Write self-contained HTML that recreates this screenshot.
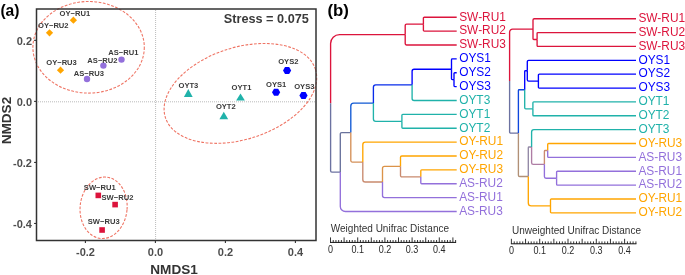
<!DOCTYPE html>
<html><head><meta charset="utf-8"><style>
html,body{margin:0;padding:0;background:#fff;width:685px;height:275px;overflow:hidden;font-family:"Liberation Sans",sans-serif;}
svg{display:block;will-change:transform}
</style></head><body>
<svg width="685" height="275" viewBox="0 0 685 275">
<rect width="685" height="275" fill="#fff"/>
<line x1="155.6" y1="10" x2="155.6" y2="240" stroke="#a8a8a8" stroke-width="0.8" stroke-dasharray="1 1"/>
<line x1="38" y1="101.8" x2="315" y2="101.8" stroke="#a8a8a8" stroke-width="0.8" stroke-dasharray="1 1"/>
<ellipse cx="88.6" cy="47.3" rx="55.7" ry="45.8" fill="none" stroke="#ef7565" stroke-width="1.1" stroke-dasharray="2.8 1.5"/>
<ellipse cx="240.4" cy="93.4" rx="78.8" ry="45.9" transform="rotate(-17.9 240.4 93.4)" fill="none" stroke="#ef7565" stroke-width="1.1" stroke-dasharray="2.8 1.5"/>
<ellipse cx="103.6" cy="207.8" rx="23.5" ry="30.8" transform="rotate(5.3 103.6 207.8)" fill="none" stroke="#ef7565" stroke-width="1.1" stroke-dasharray="2.8 1.5"/>
<path d="M69.80 20.20L73.40 16.60L77.00 20.20L73.40 23.80Z" fill="#ffa500"/>
<path d="M45.90 32.80L49.50 29.20L53.10 32.80L49.50 36.40Z" fill="#ffa500"/>
<path d="M56.90 70.20L60.50 66.60L64.10 70.20L60.50 73.80Z" fill="#ffa500"/>
<circle cx="121.5" cy="59.6" r="3.2" fill="#9370db"/>
<circle cx="103.4" cy="65.6" r="3.2" fill="#9370db"/>
<circle cx="87" cy="79" r="3.2" fill="#9370db"/>
<path d="M188.30 89.10L192.70 97.10L183.90 97.10Z" fill="#20b2aa"/>
<path d="M240.50 93.40L244.90 100.40L236.10 100.40Z" fill="#20b2aa"/>
<path d="M223.80 111.70L228.20 119.30L219.40 119.30Z" fill="#20b2aa"/>
<path d="M283.00 70.50L285.05 67.00L289.15 67.00L291.20 70.50L289.15 74.00L285.05 74.00Z" fill="#0000ff"/>
<path d="M272.00 92.20L274.05 88.70L278.15 88.70L280.20 92.20L278.15 95.70L274.05 95.70Z" fill="#0000ff"/>
<path d="M299.40 95.40L301.45 91.90L305.55 91.90L307.60 95.40L305.55 98.90L301.45 98.90Z" fill="#0000ff"/>
<rect x="95.50" y="192.60" width="5.6" height="5.6" fill="#dc143c"/>
<rect x="112.30" y="201.80" width="5.6" height="5.6" fill="#dc143c"/>
<rect x="99.30" y="227.20" width="5.6" height="5.6" fill="#dc143c"/>
<g font-family='"Liberation Sans", sans-serif' font-weight="bold" font-size="7.6" fill="#3a3a3a" text-anchor="middle">
<text x="74.85" y="15.90">OY−RU1</text>
<text x="53.30" y="27.90">OY−RU2</text>
<text x="61.55" y="64.70">OY−RU3</text>
<text x="123.30" y="54.90">AS−RU1</text>
<text x="102.45" y="62.50">AS−RU2</text>
<text x="88.80" y="76.30">AS−RU3</text>
<text x="188.40" y="87.60">OYT3</text>
<text x="241.45" y="89.90">OYT1</text>
<text x="225.80" y="108.80">OYT2</text>
<text x="288.35" y="64.00">OYS2</text>
<text x="276.15" y="86.60">OYS1</text>
<text x="304.30" y="89.00">OYS3</text>
<text x="99.75" y="189.90">SW−RU1</text>
<text x="117.45" y="200.20">SW−RU2</text>
<text x="103.70" y="223.70">SW−RU3</text>
</g>
<rect x="36.5" y="9.0" width="279.50" height="231.50" fill="none" stroke="#333" stroke-width="1.5"/>
<line x1="85.40" y1="240.5" x2="85.40" y2="242.9" stroke="#333" stroke-width="1.1"/>
<line x1="155.40" y1="240.5" x2="155.40" y2="242.9" stroke="#333" stroke-width="1.1"/>
<line x1="225.40" y1="240.5" x2="225.40" y2="242.9" stroke="#333" stroke-width="1.1"/>
<line x1="295.40" y1="240.5" x2="295.40" y2="242.9" stroke="#333" stroke-width="1.1"/>
<line x1="34.1" y1="40.36" x2="36.5" y2="40.36" stroke="#333" stroke-width="1.1"/>
<line x1="34.1" y1="101.40" x2="36.5" y2="101.40" stroke="#333" stroke-width="1.1"/>
<line x1="34.1" y1="162.44" x2="36.5" y2="162.44" stroke="#333" stroke-width="1.1"/>
<line x1="34.1" y1="223.48" x2="36.5" y2="223.48" stroke="#333" stroke-width="1.1"/>
<g font-family='"Liberation Sans", sans-serif' font-weight="bold" font-size="11" fill="#4d4d4d">
<text x="85.50" y="256.2" text-anchor="middle">-0.2</text>
<text x="155.50" y="256.2" text-anchor="middle">0.0</text>
<text x="225.50" y="256.2" text-anchor="middle">0.2</text>
<text x="295.50" y="256.2" text-anchor="middle">0.4</text>
<text x="32" y="44.66" text-anchor="end">0.2</text>
<text x="32" y="105.70" text-anchor="end">0.0</text>
<text x="32" y="166.74" text-anchor="end">-0.2</text>
<text x="32" y="227.78" text-anchor="end">-0.4</text>
</g>
<text x="174.1" y="274.4" font-family='"Liberation Sans", sans-serif' font-weight="bold" font-size="13.6" fill="#333" text-anchor="middle">NMDS1</text>
<text transform="translate(10.7,120.55) rotate(-90)" x="0" y="0" font-family='"Liberation Sans", sans-serif' font-weight="bold" font-size="13.6" fill="#333" text-anchor="middle">NMDS2</text>
<text x="0.4" y="15.6" font-family='"Liberation Sans", sans-serif' font-weight="bold" font-size="15.6" fill="#000">(a)</text>
<text x="223.8" y="22.6" font-family='"Liberation Sans", sans-serif' font-weight="bold" font-size="12.7" fill="#3a3a3a">Stress = 0.075</text>
<text x="327.5" y="16.2" font-family='"Liberation Sans", sans-serif' font-weight="bold" font-size="16.8" fill="#000">(b)</text>
<path d="M330.60 103.30V43.49A8.94 8.94 0 0 1 339.54 34.55H405.20" fill="none" stroke="#dc143c" stroke-width="1.35"/>
<path d="M405.20 34.55V25.49A1.35 1.35 0 0 1 406.55 24.14H423.40" fill="none" stroke="#dc143c" stroke-width="1.35"/>
<path d="M423.40 24.14V18.10A0.90 0.90 0 0 1 424.30 17.20H456.70" fill="none" stroke="#dc143c" stroke-width="1.35"/>
<path d="M423.40 24.14V30.18A0.90 0.90 0 0 0 424.30 31.08H456.70" fill="none" stroke="#dc143c" stroke-width="1.35"/>
<path d="M405.20 34.55V43.61A1.35 1.35 0 0 0 406.55 44.96H456.70" fill="none" stroke="#dc143c" stroke-width="1.35"/>
<path d="M330.60 103.30V170.79A1.26 1.26 0 0 0 331.86 172.05H340.30" fill="none" stroke="#6c72a1" stroke-width="1.35"/>
<path d="M340.30 172.05V133.94A1.36 1.36 0 0 1 341.67 132.58H350.80" fill="none" stroke="#69729c" stroke-width="1.35"/>
<path d="M350.80 132.58V106.02A2.94 2.94 0 0 1 353.74 103.08H373.40" fill="none" stroke="#1059d4" stroke-width="1.35"/>
<path d="M373.40 103.08V87.23A2.37 2.37 0 0 1 375.77 84.87H412.10" fill="none" stroke="#082cea" stroke-width="1.35"/>
<path d="M412.10 84.87V71.28A2.03 2.03 0 0 1 414.13 69.25H451.50" fill="none" stroke="#0000ff" stroke-width="1.35"/>
<path d="M451.50 69.25V59.64A0.80 0.80 0 0 1 452.30 58.84H456.70" fill="none" stroke="#0000ff" stroke-width="1.35"/>
<path d="M451.50 69.25V78.86A0.80 0.80 0 0 0 452.30 79.66H454.00" fill="none" stroke="#0000ff" stroke-width="1.35"/>
<path d="M454.00 79.66V73.52A0.80 0.80 0 0 1 454.80 72.72H456.70" fill="none" stroke="#0000ff" stroke-width="1.35"/>
<path d="M454.00 79.66V85.80A0.80 0.80 0 0 0 454.80 86.60H456.70" fill="none" stroke="#0000ff" stroke-width="1.35"/>
<path d="M412.10 84.87V98.45A2.03 2.03 0 0 0 414.13 100.48H456.70" fill="none" stroke="#20b2aa" stroke-width="1.35"/>
<path d="M373.40 103.08V118.93A2.37 2.37 0 0 0 375.77 121.30H401.90" fill="none" stroke="#20b2aa" stroke-width="1.35"/>
<path d="M401.90 121.30V115.26A0.90 0.90 0 0 1 402.80 114.36H456.70" fill="none" stroke="#20b2aa" stroke-width="1.35"/>
<path d="M401.90 121.30V127.34A0.90 0.90 0 0 0 402.80 128.24H456.70" fill="none" stroke="#20b2aa" stroke-width="1.35"/>
<path d="M350.80 132.58V160.51A1.56 1.56 0 0 0 352.36 162.07H362.80" fill="none" stroke="#d49058" stroke-width="1.35"/>
<path d="M362.80 162.07V144.71A2.59 2.59 0 0 1 365.39 142.12H456.70" fill="none" stroke="#ffa500" stroke-width="1.35"/>
<path d="M362.80 162.07V179.46A2.56 2.56 0 0 0 365.36 182.02H382.50" fill="none" stroke="#c98a6e" stroke-width="1.35"/>
<path d="M382.50 182.02V168.44A2.03 2.03 0 0 1 384.53 166.41H400.50" fill="none" stroke="#db9349" stroke-width="1.35"/>
<path d="M400.50 166.41V157.35A1.35 1.35 0 0 1 401.85 156.00H456.70" fill="none" stroke="#ffa500" stroke-width="1.35"/>
<path d="M400.50 166.41V175.47A1.35 1.35 0 0 0 401.85 176.82H420.80" fill="none" stroke="#c98a6e" stroke-width="1.35"/>
<path d="M420.80 176.82V170.78A0.90 0.90 0 0 1 421.70 169.88H456.70" fill="none" stroke="#ffa500" stroke-width="1.35"/>
<path d="M420.80 176.82V182.86A0.90 0.90 0 0 0 421.70 183.76H456.70" fill="none" stroke="#9370db" stroke-width="1.35"/>
<path d="M382.50 182.02V195.61A2.03 2.03 0 0 0 384.53 197.64H456.70" fill="none" stroke="#9370db" stroke-width="1.35"/>
<path d="M340.30 172.05V206.39A5.13 5.13 0 0 0 345.43 211.52H456.70" fill="none" stroke="#9370db" stroke-width="1.35"/>
<g font-family='"Liberation Sans", sans-serif' font-size="11.9">
<text x="459.2" y="20.50" fill="#dc143c">SW-RU1</text>
<text x="459.2" y="34.38" fill="#dc143c">SW-RU2</text>
<text x="459.2" y="48.26" fill="#dc143c">SW-RU3</text>
<text x="459.2" y="62.14" fill="#0000ff">OYS1</text>
<text x="459.2" y="76.02" fill="#0000ff">OYS2</text>
<text x="459.2" y="89.90" fill="#0000ff">OYS3</text>
<text x="459.2" y="103.78" fill="#20b2aa">OYT3</text>
<text x="459.2" y="117.66" fill="#20b2aa">OYT1</text>
<text x="459.2" y="131.54" fill="#20b2aa">OYT2</text>
<text x="459.2" y="145.42" fill="#ffa500">OY-RU1</text>
<text x="459.2" y="159.30" fill="#ffa500">OY-RU2</text>
<text x="459.2" y="173.18" fill="#ffa500">OY-RU3</text>
<text x="459.2" y="187.06" fill="#9370db">AS-RU2</text>
<text x="459.2" y="200.94" fill="#9370db">AS-RU1</text>
<text x="459.2" y="214.82" fill="#9370db">AS-RU3</text>
</g>
<path d="M509.60 81.11V32.14A3.04 3.04 0 0 1 512.64 29.10H533.00" fill="none" stroke="#dc143c" stroke-width="1.35"/>
<path d="M533.00 29.10V20.05A1.35 1.35 0 0 1 534.35 18.70H636.00" fill="none" stroke="#dc143c" stroke-width="1.35"/>
<path d="M533.00 29.10V38.70A0.80 0.80 0 0 0 533.80 39.50H537.10" fill="none" stroke="#dc143c" stroke-width="1.35"/>
<path d="M537.10 39.50V33.47A0.90 0.90 0 0 1 538.00 32.57H636.00" fill="none" stroke="#dc143c" stroke-width="1.35"/>
<path d="M537.10 39.50V45.54A0.90 0.90 0 0 0 538.00 46.44H636.00" fill="none" stroke="#dc143c" stroke-width="1.35"/>
<path d="M509.60 81.11V131.98A1.14 1.14 0 0 0 510.74 133.13H518.40" fill="none" stroke="#6c72a1" stroke-width="1.35"/>
<path d="M518.40 133.13V90.60A0.82 0.82 0 0 1 519.22 89.78H524.70" fill="none" stroke="#0d47dd" stroke-width="1.35"/>
<path d="M524.70 89.78V71.51A0.80 0.80 0 0 1 525.50 70.71H527.30" fill="none" stroke="#0000ff" stroke-width="1.35"/>
<path d="M527.30 70.71V61.66A1.35 1.35 0 0 1 528.65 60.31H636.00" fill="none" stroke="#0000ff" stroke-width="1.35"/>
<path d="M527.30 70.71V79.76A1.35 1.35 0 0 0 528.65 81.11H538.40" fill="none" stroke="#0000ff" stroke-width="1.35"/>
<path d="M538.40 81.11V75.08A0.90 0.90 0 0 1 539.30 74.18H636.00" fill="none" stroke="#0000ff" stroke-width="1.35"/>
<path d="M538.40 81.11V87.15A0.90 0.90 0 0 0 539.30 88.05H636.00" fill="none" stroke="#0000ff" stroke-width="1.35"/>
<path d="M524.70 89.78V107.79A1.07 1.07 0 0 0 525.77 108.85H532.90" fill="none" stroke="#20b2aa" stroke-width="1.35"/>
<path d="M532.90 108.85V102.82A0.90 0.90 0 0 1 533.80 101.92H636.00" fill="none" stroke="#20b2aa" stroke-width="1.35"/>
<path d="M532.90 108.85V114.89A0.90 0.90 0 0 0 533.80 115.79H636.00" fill="none" stroke="#20b2aa" stroke-width="1.35"/>
<path d="M518.40 133.13V175.18A1.29 1.29 0 0 0 519.69 176.47H528.30" fill="none" stroke="#b19076" stroke-width="1.35"/>
<path d="M528.30 176.47V147.80A0.80 0.80 0 0 1 529.10 147.00H531.60" fill="none" stroke="#9288a5" stroke-width="1.35"/>
<path d="M531.60 147.00V131.91A2.25 2.25 0 0 1 533.85 129.66H636.00" fill="none" stroke="#20b2aa" stroke-width="1.35"/>
<path d="M531.60 147.00V162.67A1.66 1.66 0 0 0 533.26 164.33H544.40" fill="none" stroke="#ae7da4" stroke-width="1.35"/>
<path d="M544.40 164.33V151.26A0.80 0.80 0 0 1 545.20 150.46H547.70" fill="none" stroke="#c98a6e" stroke-width="1.35"/>
<path d="M547.70 150.46V144.43A0.90 0.90 0 0 1 548.60 143.53H636.00" fill="none" stroke="#ffa500" stroke-width="1.35"/>
<path d="M547.70 150.46V156.50A0.90 0.90 0 0 0 548.60 157.40H636.00" fill="none" stroke="#9370db" stroke-width="1.35"/>
<path d="M544.40 164.33V176.62A1.59 1.59 0 0 0 545.99 178.20H556.60" fill="none" stroke="#9370db" stroke-width="1.35"/>
<path d="M556.60 178.20V172.17A0.90 0.90 0 0 1 557.50 171.27H636.00" fill="none" stroke="#9370db" stroke-width="1.35"/>
<path d="M556.60 178.20V184.24A0.90 0.90 0 0 0 557.50 185.14H636.00" fill="none" stroke="#9370db" stroke-width="1.35"/>
<path d="M528.30 176.47V203.06A2.89 2.89 0 0 0 531.19 205.94H550.50" fill="none" stroke="#ffa500" stroke-width="1.35"/>
<path d="M550.50 205.94V199.91A0.90 0.90 0 0 1 551.40 199.01H636.00" fill="none" stroke="#ffa500" stroke-width="1.35"/>
<path d="M550.50 205.94V211.98A0.90 0.90 0 0 0 551.40 212.88H636.00" fill="none" stroke="#ffa500" stroke-width="1.35"/>
<g font-family='"Liberation Sans", sans-serif' font-size="11.9">
<text x="638.4" y="22.00" fill="#dc143c">SW-RU1</text>
<text x="638.4" y="35.87" fill="#dc143c">SW-RU2</text>
<text x="638.4" y="49.74" fill="#dc143c">SW-RU3</text>
<text x="638.4" y="63.61" fill="#0000ff">OYS1</text>
<text x="638.4" y="77.48" fill="#0000ff">OYS2</text>
<text x="638.4" y="91.35" fill="#0000ff">OYS3</text>
<text x="638.4" y="105.22" fill="#20b2aa">OYT1</text>
<text x="638.4" y="119.09" fill="#20b2aa">OYT2</text>
<text x="638.4" y="132.96" fill="#20b2aa">OYT3</text>
<text x="638.4" y="146.83" fill="#ffa500">OY-RU3</text>
<text x="638.4" y="160.70" fill="#9370db">AS-RU3</text>
<text x="638.4" y="174.57" fill="#9370db">AS-RU1</text>
<text x="638.4" y="188.44" fill="#9370db">AS-RU2</text>
<text x="638.4" y="202.31" fill="#ffa500">OY-RU1</text>
<text x="638.4" y="216.18" fill="#ffa500">OY-RU2</text>
</g>
<text x="330.8" y="231.5" font-family='"Liberation Sans", sans-serif' font-size="10" fill="#333">Weighted Unifrac Distance</text>
<line x1="330.00" y1="242.4" x2="456.12" y2="242.4" stroke="#111" stroke-width="1.0"/>
<line x1="330.50" y1="242.4" x2="330.50" y2="237.4" stroke="#111" stroke-width="0.85"/>
<line x1="333.22" y1="242.4" x2="333.22" y2="240.0" stroke="#111" stroke-width="0.85"/>
<line x1="335.94" y1="242.4" x2="335.94" y2="240.0" stroke="#111" stroke-width="0.85"/>
<line x1="338.66" y1="242.4" x2="338.66" y2="240.0" stroke="#111" stroke-width="0.85"/>
<line x1="341.38" y1="242.4" x2="341.38" y2="240.0" stroke="#111" stroke-width="0.85"/>
<line x1="344.10" y1="242.4" x2="344.10" y2="237.4" stroke="#111" stroke-width="0.85"/>
<line x1="346.82" y1="242.4" x2="346.82" y2="240.0" stroke="#111" stroke-width="0.85"/>
<line x1="349.54" y1="242.4" x2="349.54" y2="240.0" stroke="#111" stroke-width="0.85"/>
<line x1="352.26" y1="242.4" x2="352.26" y2="240.0" stroke="#111" stroke-width="0.85"/>
<line x1="354.98" y1="242.4" x2="354.98" y2="240.0" stroke="#111" stroke-width="0.85"/>
<line x1="357.70" y1="242.4" x2="357.70" y2="237.4" stroke="#111" stroke-width="0.85"/>
<line x1="360.42" y1="242.4" x2="360.42" y2="240.0" stroke="#111" stroke-width="0.85"/>
<line x1="363.14" y1="242.4" x2="363.14" y2="240.0" stroke="#111" stroke-width="0.85"/>
<line x1="365.86" y1="242.4" x2="365.86" y2="240.0" stroke="#111" stroke-width="0.85"/>
<line x1="368.58" y1="242.4" x2="368.58" y2="240.0" stroke="#111" stroke-width="0.85"/>
<line x1="371.30" y1="242.4" x2="371.30" y2="237.4" stroke="#111" stroke-width="0.85"/>
<line x1="374.02" y1="242.4" x2="374.02" y2="240.0" stroke="#111" stroke-width="0.85"/>
<line x1="376.74" y1="242.4" x2="376.74" y2="240.0" stroke="#111" stroke-width="0.85"/>
<line x1="379.46" y1="242.4" x2="379.46" y2="240.0" stroke="#111" stroke-width="0.85"/>
<line x1="382.18" y1="242.4" x2="382.18" y2="240.0" stroke="#111" stroke-width="0.85"/>
<line x1="384.90" y1="242.4" x2="384.90" y2="237.4" stroke="#111" stroke-width="0.85"/>
<line x1="387.62" y1="242.4" x2="387.62" y2="240.0" stroke="#111" stroke-width="0.85"/>
<line x1="390.34" y1="242.4" x2="390.34" y2="240.0" stroke="#111" stroke-width="0.85"/>
<line x1="393.06" y1="242.4" x2="393.06" y2="240.0" stroke="#111" stroke-width="0.85"/>
<line x1="395.78" y1="242.4" x2="395.78" y2="240.0" stroke="#111" stroke-width="0.85"/>
<line x1="398.50" y1="242.4" x2="398.50" y2="237.4" stroke="#111" stroke-width="0.85"/>
<line x1="401.22" y1="242.4" x2="401.22" y2="240.0" stroke="#111" stroke-width="0.85"/>
<line x1="403.94" y1="242.4" x2="403.94" y2="240.0" stroke="#111" stroke-width="0.85"/>
<line x1="406.66" y1="242.4" x2="406.66" y2="240.0" stroke="#111" stroke-width="0.85"/>
<line x1="409.38" y1="242.4" x2="409.38" y2="240.0" stroke="#111" stroke-width="0.85"/>
<line x1="412.10" y1="242.4" x2="412.10" y2="237.4" stroke="#111" stroke-width="0.85"/>
<line x1="414.82" y1="242.4" x2="414.82" y2="240.0" stroke="#111" stroke-width="0.85"/>
<line x1="417.54" y1="242.4" x2="417.54" y2="240.0" stroke="#111" stroke-width="0.85"/>
<line x1="420.26" y1="242.4" x2="420.26" y2="240.0" stroke="#111" stroke-width="0.85"/>
<line x1="422.98" y1="242.4" x2="422.98" y2="240.0" stroke="#111" stroke-width="0.85"/>
<line x1="425.70" y1="242.4" x2="425.70" y2="237.4" stroke="#111" stroke-width="0.85"/>
<line x1="428.42" y1="242.4" x2="428.42" y2="240.0" stroke="#111" stroke-width="0.85"/>
<line x1="431.14" y1="242.4" x2="431.14" y2="240.0" stroke="#111" stroke-width="0.85"/>
<line x1="433.86" y1="242.4" x2="433.86" y2="240.0" stroke="#111" stroke-width="0.85"/>
<line x1="436.58" y1="242.4" x2="436.58" y2="240.0" stroke="#111" stroke-width="0.85"/>
<line x1="439.30" y1="242.4" x2="439.30" y2="237.4" stroke="#111" stroke-width="0.85"/>
<line x1="442.02" y1="242.4" x2="442.02" y2="240.0" stroke="#111" stroke-width="0.85"/>
<line x1="444.74" y1="242.4" x2="444.74" y2="240.0" stroke="#111" stroke-width="0.85"/>
<line x1="447.46" y1="242.4" x2="447.46" y2="240.0" stroke="#111" stroke-width="0.85"/>
<line x1="450.18" y1="242.4" x2="450.18" y2="240.0" stroke="#111" stroke-width="0.85"/>
<line x1="452.90" y1="242.4" x2="452.90" y2="237.4" stroke="#111" stroke-width="0.85"/>
<line x1="455.62" y1="242.4" x2="455.62" y2="240.0" stroke="#111" stroke-width="0.85"/>
<text transform="translate(330.50,253.0) scale(0.82,1)" font-family='"Liberation Sans", sans-serif' font-size="11" fill="#2a2a2a" text-anchor="middle">0</text>
<text transform="translate(357.70,253.0) scale(0.82,1)" font-family='"Liberation Sans", sans-serif' font-size="11" fill="#2a2a2a" text-anchor="middle">0.1</text>
<text transform="translate(384.90,253.0) scale(0.82,1)" font-family='"Liberation Sans", sans-serif' font-size="11" fill="#2a2a2a" text-anchor="middle">0.2</text>
<text transform="translate(412.10,253.0) scale(0.82,1)" font-family='"Liberation Sans", sans-serif' font-size="11" fill="#2a2a2a" text-anchor="middle">0.3</text>
<text transform="translate(439.30,253.0) scale(0.82,1)" font-family='"Liberation Sans", sans-serif' font-size="11" fill="#2a2a2a" text-anchor="middle">0.4</text>
<text x="512.0" y="234.1" font-family='"Liberation Sans", sans-serif' font-size="10" fill="#333">Unweighted Unifrac Distance</text>
<line x1="510.90" y1="243.8" x2="636.42" y2="243.8" stroke="#111" stroke-width="1.0"/>
<line x1="511.40" y1="243.8" x2="511.40" y2="238.8" stroke="#111" stroke-width="0.85"/>
<line x1="514.23" y1="243.8" x2="514.23" y2="241.4" stroke="#111" stroke-width="0.85"/>
<line x1="517.06" y1="243.8" x2="517.06" y2="241.4" stroke="#111" stroke-width="0.85"/>
<line x1="519.89" y1="243.8" x2="519.89" y2="241.4" stroke="#111" stroke-width="0.85"/>
<line x1="522.72" y1="243.8" x2="522.72" y2="241.4" stroke="#111" stroke-width="0.85"/>
<line x1="525.55" y1="243.8" x2="525.55" y2="238.8" stroke="#111" stroke-width="0.85"/>
<line x1="528.38" y1="243.8" x2="528.38" y2="241.4" stroke="#111" stroke-width="0.85"/>
<line x1="531.21" y1="243.8" x2="531.21" y2="241.4" stroke="#111" stroke-width="0.85"/>
<line x1="534.04" y1="243.8" x2="534.04" y2="241.4" stroke="#111" stroke-width="0.85"/>
<line x1="536.87" y1="243.8" x2="536.87" y2="241.4" stroke="#111" stroke-width="0.85"/>
<line x1="539.70" y1="243.8" x2="539.70" y2="238.8" stroke="#111" stroke-width="0.85"/>
<line x1="542.53" y1="243.8" x2="542.53" y2="241.4" stroke="#111" stroke-width="0.85"/>
<line x1="545.36" y1="243.8" x2="545.36" y2="241.4" stroke="#111" stroke-width="0.85"/>
<line x1="548.19" y1="243.8" x2="548.19" y2="241.4" stroke="#111" stroke-width="0.85"/>
<line x1="551.02" y1="243.8" x2="551.02" y2="241.4" stroke="#111" stroke-width="0.85"/>
<line x1="553.85" y1="243.8" x2="553.85" y2="238.8" stroke="#111" stroke-width="0.85"/>
<line x1="556.68" y1="243.8" x2="556.68" y2="241.4" stroke="#111" stroke-width="0.85"/>
<line x1="559.51" y1="243.8" x2="559.51" y2="241.4" stroke="#111" stroke-width="0.85"/>
<line x1="562.34" y1="243.8" x2="562.34" y2="241.4" stroke="#111" stroke-width="0.85"/>
<line x1="565.17" y1="243.8" x2="565.17" y2="241.4" stroke="#111" stroke-width="0.85"/>
<line x1="568.00" y1="243.8" x2="568.00" y2="238.8" stroke="#111" stroke-width="0.85"/>
<line x1="570.83" y1="243.8" x2="570.83" y2="241.4" stroke="#111" stroke-width="0.85"/>
<line x1="573.66" y1="243.8" x2="573.66" y2="241.4" stroke="#111" stroke-width="0.85"/>
<line x1="576.49" y1="243.8" x2="576.49" y2="241.4" stroke="#111" stroke-width="0.85"/>
<line x1="579.32" y1="243.8" x2="579.32" y2="241.4" stroke="#111" stroke-width="0.85"/>
<line x1="582.15" y1="243.8" x2="582.15" y2="238.8" stroke="#111" stroke-width="0.85"/>
<line x1="584.98" y1="243.8" x2="584.98" y2="241.4" stroke="#111" stroke-width="0.85"/>
<line x1="587.81" y1="243.8" x2="587.81" y2="241.4" stroke="#111" stroke-width="0.85"/>
<line x1="590.64" y1="243.8" x2="590.64" y2="241.4" stroke="#111" stroke-width="0.85"/>
<line x1="593.47" y1="243.8" x2="593.47" y2="241.4" stroke="#111" stroke-width="0.85"/>
<line x1="596.30" y1="243.8" x2="596.30" y2="238.8" stroke="#111" stroke-width="0.85"/>
<line x1="599.13" y1="243.8" x2="599.13" y2="241.4" stroke="#111" stroke-width="0.85"/>
<line x1="601.96" y1="243.8" x2="601.96" y2="241.4" stroke="#111" stroke-width="0.85"/>
<line x1="604.79" y1="243.8" x2="604.79" y2="241.4" stroke="#111" stroke-width="0.85"/>
<line x1="607.62" y1="243.8" x2="607.62" y2="241.4" stroke="#111" stroke-width="0.85"/>
<line x1="610.45" y1="243.8" x2="610.45" y2="238.8" stroke="#111" stroke-width="0.85"/>
<line x1="613.28" y1="243.8" x2="613.28" y2="241.4" stroke="#111" stroke-width="0.85"/>
<line x1="616.11" y1="243.8" x2="616.11" y2="241.4" stroke="#111" stroke-width="0.85"/>
<line x1="618.94" y1="243.8" x2="618.94" y2="241.4" stroke="#111" stroke-width="0.85"/>
<line x1="621.77" y1="243.8" x2="621.77" y2="241.4" stroke="#111" stroke-width="0.85"/>
<line x1="624.60" y1="243.8" x2="624.60" y2="238.8" stroke="#111" stroke-width="0.85"/>
<line x1="627.43" y1="243.8" x2="627.43" y2="241.4" stroke="#111" stroke-width="0.85"/>
<line x1="630.26" y1="243.8" x2="630.26" y2="241.4" stroke="#111" stroke-width="0.85"/>
<line x1="633.09" y1="243.8" x2="633.09" y2="241.4" stroke="#111" stroke-width="0.85"/>
<line x1="635.92" y1="243.8" x2="635.92" y2="241.4" stroke="#111" stroke-width="0.85"/>
<text transform="translate(511.40,254.4) scale(0.82,1)" font-family='"Liberation Sans", sans-serif' font-size="11" fill="#2a2a2a" text-anchor="middle">0</text>
<text transform="translate(539.70,254.4) scale(0.82,1)" font-family='"Liberation Sans", sans-serif' font-size="11" fill="#2a2a2a" text-anchor="middle">0.1</text>
<text transform="translate(568.00,254.4) scale(0.82,1)" font-family='"Liberation Sans", sans-serif' font-size="11" fill="#2a2a2a" text-anchor="middle">0.2</text>
<text transform="translate(596.30,254.4) scale(0.82,1)" font-family='"Liberation Sans", sans-serif' font-size="11" fill="#2a2a2a" text-anchor="middle">0.3</text>
<text transform="translate(624.60,254.4) scale(0.82,1)" font-family='"Liberation Sans", sans-serif' font-size="11" fill="#2a2a2a" text-anchor="middle">0.4</text>
</svg>
</body></html>
